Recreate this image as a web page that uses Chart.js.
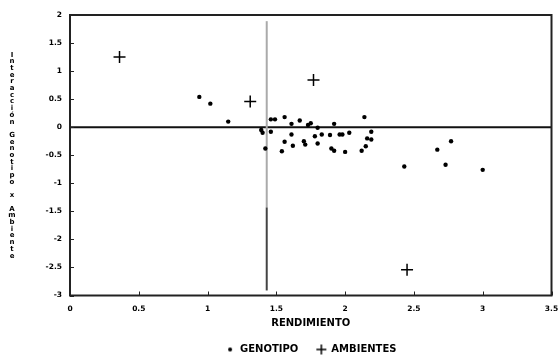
<!DOCTYPE html>
<html>
<head>
<meta charset="utf-8">
<script src="https://cdn.jsdelivr.net/npm/chart.js@4/dist/chart.umd.min.js"></script>
<style>
  html, body { margin: 0; padding: 0; background: #fff; }
  #wrap { width: 559px; height: 356px; }
</style>
</head>
<body>
<div id="wrap"><canvas id="gxaChart"></canvas></div>
<script>
// Genotipos: rendimiento vs interaccion GxA
const genX = [0.94, 1.02, 1.15, 1.39, 1.40, 1.42, 1.46, 1.46, 1.49, 1.56, 1.61, 1.67, 1.73, 1.75,
  1.80, 1.92, 2.14, 1.61, 1.56, 1.54, 1.62, 1.70, 1.71, 1.78, 1.83, 1.80, 1.89, 1.90, 1.92,
  1.96, 1.98, 2.00, 2.03, 2.12, 2.15, 2.16, 2.19, 2.19, 2.43, 2.67, 2.73, 2.77, 3.00];
const genY = [0.54, 0.42, 0.10, -0.05, -0.10, -0.38, -0.08, 0.14, 0.14, 0.18, 0.06, 0.12, 0.04, 0.07,
  -0.01, 0.06, 0.18, -0.13, -0.26, -0.43, -0.33, -0.25, -0.31, -0.16, -0.13, -0.29, -0.14, -0.38, -0.42,
  -0.13, -0.13, -0.44, -0.10, -0.42, -0.34, -0.20, -0.22, -0.08, -0.70, -0.40, -0.67, -0.25, -0.76];

// Ambientes
const ambX = [0.36, 1.31, 1.77, 2.45];
const ambY = [1.25, 0.46, 0.84, -2.54];

const xTicks = [0, 0.5, 1, 1.5, 2, 2.5, 3, 3.5];
const yTicks = [2, 1.5, 1, 0.5, 0, -0.5, -1, -1.5, -2, -2.5, -3];
const meanRend = 1.43;
const yTitle = 'Interacción Genotipo x Ambiente';

const toPoints = (xs, ys) => xs.map((x, i) => ({ x: x, y: ys[i] }));

// small marks for the legend: dot is smaller than the cross
function legendMark(style) {
  const c = document.createElement('canvas');
  c.width = 12;
  c.height = 12;
  const g = c.getContext('2d');
  g.fillStyle = '#000';
  g.strokeStyle = '#000';
  if (style === 'circle') {
    g.beginPath();
    g.arc(6, 6, 2, 0, 2 * Math.PI);
    g.fill();
  } else {
    g.lineWidth = 1.5;
    g.beginPath();
    g.moveTo(1, 6); g.lineTo(11, 6);
    g.moveTo(6, 1); g.lineTo(6, 11);
    g.stroke();
  }
  return c;
}

// box, inner ticks, reference lines and stacked y title
const framePlugin = {
  id: 'frame',
  beforeDatasetsDraw(chart) {
    const { ctx, chartArea: a, scales: { x, y } } = chart;
    ctx.save();
    // zero line
    ctx.strokeStyle = '#111';
    ctx.lineWidth = 2;
    ctx.beginPath();
    ctx.moveTo(a.left, y.getPixelForValue(0));
    ctx.lineTo(a.right, y.getPixelForValue(0));
    ctx.stroke();
    // mean rendimiento line
    const mx = x.getPixelForValue(meanRend);
    ctx.strokeStyle = '#aaa';
    ctx.lineWidth = 2;
    ctx.beginPath();
    ctx.moveTo(mx, y.getPixelForValue(1.89));
    ctx.lineTo(mx, y.getPixelForValue(-1.43));
    ctx.stroke();
    ctx.strokeStyle = '#444';
    ctx.beginPath();
    ctx.moveTo(mx, y.getPixelForValue(-1.43));
    ctx.lineTo(mx, y.getPixelForValue(-2.91));
    ctx.stroke();
    ctx.restore();
  },
  afterDraw(chart) {
    const { ctx, chartArea: a, scales: { x, y } } = chart;
    ctx.save();
    ctx.strokeStyle = '#222';
    ctx.lineWidth = 2;
    ctx.strokeRect(a.left, a.top, a.right - a.left, a.bottom - a.top);
    ctx.lineWidth = 1;
    ctx.beginPath();
    xTicks.forEach(v => {
      const px = Math.round(x.getPixelForValue(v)) + 0.5;
      ctx.moveTo(px, a.bottom);
      ctx.lineTo(px, a.bottom - 4);
    });
    yTicks.forEach(v => {
      const py = Math.round(y.getPixelForValue(v)) + 0.5;
      ctx.moveTo(a.left, py);
      ctx.lineTo(a.left + 4, py);
    });
    ctx.stroke();
    // y title, one letter under the other
    ctx.fillStyle = '#000';
    ctx.font = 'bold 7px "DejaVu Sans"';
    ctx.textAlign = 'center';
    ctx.textBaseline = 'middle';
    const step = 6.7;
    const mid = (a.top + a.bottom) / 2;
    const start = mid - (yTitle.length - 1) * step / 2;
    [...yTitle].forEach((ch, i) => ctx.fillText(ch, 12, start + i * step));
    ctx.restore();
  }
};

const tickFont = { family: 'DejaVu Sans', size: 7.5, weight: 'bold' };
const labelFont = { family: 'DejaVu Sans', size: 10, weight: 'bold' };

new Chart(document.getElementById('gxaChart'), {
  type: 'scatter',
  data: {
    datasets: [{
      label: 'GENOTIPO',
      data: toPoints(genX, genY),
      pointStyle: 'circle',
      pointRadius: 2.2,
      backgroundColor: '#000',
      borderColor: '#000',
      borderWidth: 0
    }, {
      label: 'AMBIENTES',
      data: toPoints(ambX, ambY),
      pointStyle: 'cross',
      pointRadius: 6,
      backgroundColor: '#000',
      borderColor: '#000',
      borderWidth: 1.5
    }]
  },
  options: {
    responsive: true,
    maintainAspectRatio: false,
    animation: false,
    layout: { padding: { top: 15, right: 4, left: 0, bottom: -8.5 } },
    scales: {
      x: {
        type: 'linear',
        min: 0,
        max: 3.5,
        afterBuildTicks: s => { s.ticks = xTicks.map(v => ({ value: v })); },
        afterFit: s => { s.height = 31; s.paddingRight = 0; s.paddingLeft = 0; },
        ticks: { color: '#000', font: tickFont, padding: 9, maxRotation: 0, callback: v => String(v) },
        grid: { display: false, drawTicks: false },
        border: { display: false },
        title: { display: true, text: 'RENDIMIENTO', color: '#000', font: labelFont,
                 padding: { top: 1, bottom: -3 } }
      },
      y: {
        type: 'linear',
        min: -3,
        max: 2,
        afterBuildTicks: s => { s.ticks = yTicks.map(v => ({ value: v })); },
        afterFit: s => { s.width = 70; s.paddingTop = 0; s.paddingBottom = 0; },
        ticks: { color: '#000', font: tickFont, padding: 8, callback: v => String(v) },
        grid: { display: false, drawTicks: false },
        border: { display: false }
      }
    },
    plugins: {
      legend: {
        position: 'bottom',
        fullSize: false,
        labels: {
          usePointStyle: true,
          boxWidth: 14,
          boxHeight: 12,
          padding: 18,
          color: '#000',
          font: labelFont,
          generateLabels: chart => Chart.defaults.plugins.legend.labels.generateLabels(chart)
            .map((item, i) => Object.assign(item, { pointStyle: legendMark(i === 0 ? 'circle' : 'cross') }))
        }
      },
      tooltip: { enabled: false }
    }
  },
  plugins: [framePlugin]
});
</script>
</body>
</html>
